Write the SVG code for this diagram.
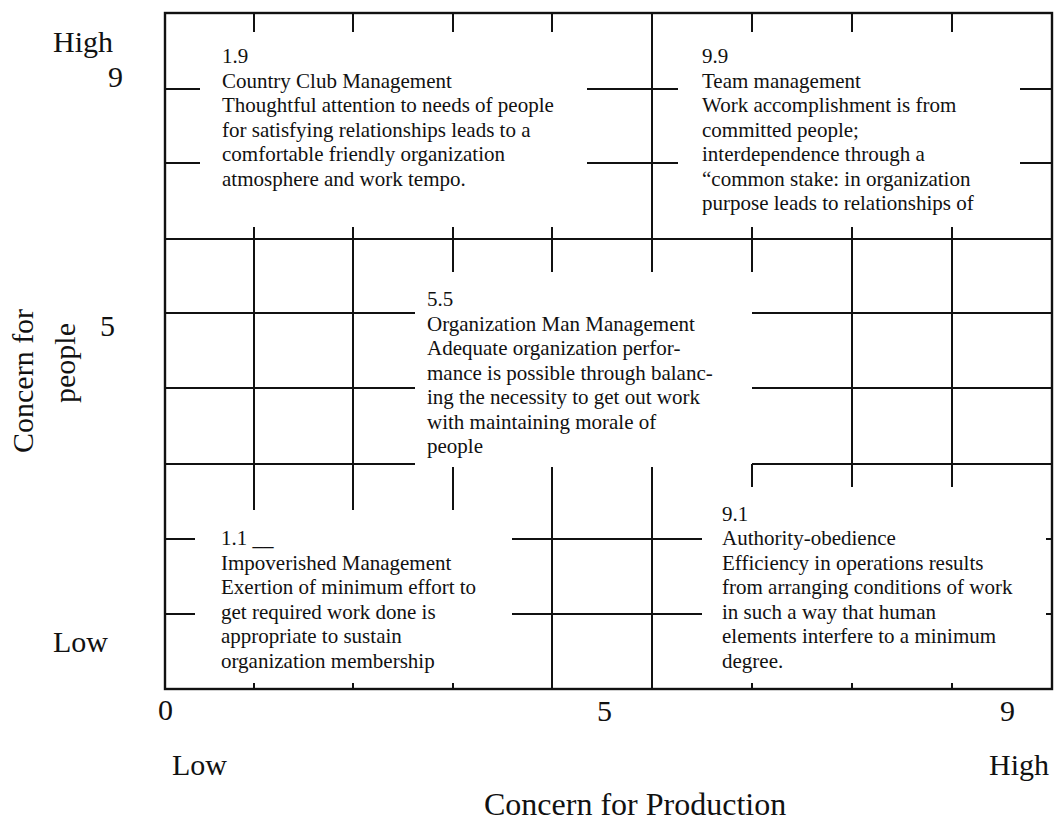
<svg xmlns="http://www.w3.org/2000/svg" width="1055" height="823" viewBox="0 0 1055 823">
<style>
.ln{stroke:#111;stroke-width:2;fill:none;stroke-linecap:butt}
.bd{stroke:#111;stroke-width:2.4;fill:none}
.tx{font-family:"Liberation Serif","Times New Roman",serif;font-size:21px;fill:#111}
.ax{font-family:"Liberation Serif","Times New Roman",serif;font-size:30px;fill:#111}
</style>
<rect width="1055" height="823" fill="#fff"/>
<g id="grid">
<rect class="bd" x="165" y="13" width="887" height="676"/>
<path class="ln" d="M165 239H1052"/>
<!-- top band -->
<path class="ln" d="M254 13V32M353 13V32M453 13V32M552 13V32M752 13V32M852 13V32M952 13V32"/>
<path class="ln" d="M254 227V239M353 227V239M453 227V239M552 227V239M752 227V239M852 227V239M952 227V239"/>
<path class="ln" d="M652 13V239"/>
<path class="ln" d="M165 89H200M165 163H200M587 89H678M587 163H678M1020 89H1052M1020 163H1052"/>
<!-- middle band -->
<path class="ln" d="M165 313H415M165 388H415M165 464H415"/>
<path class="ln" d="M752 313H1052M752 388H1052M752 464H1052"/>
<path class="ln" d="M254 239V510M353 239V510M852 239V487M952 239V487"/>
<path class="ln" d="M453 239V272M552 239V272M652 239V272M752 239V272"/>
<path class="ln" d="M453 467V510M552 467V689M652 467V689M752 464V487"/>
<!-- bottom band -->
<path class="ln" d="M165 539H195M165 614H195M512 539H702M512 614H702M1046 539H1052M1046 614H1052"/>
<path class="ln" d="M254 683V689M353 683V689M453 683V689M752 683V689M852 683V689M952 683V689"/>
</g>
<g id="node-1-9" class="tx">
<text x="222" y="63">1.9</text>
<text x="222" y="88">Country Club Management</text>
<text x="222" y="112">Thoughtful attention to needs of people</text>
<text x="222" y="137">for satisfying relationships leads to a</text>
<text x="222" y="161">comfortable friendly organization</text>
<text x="222" y="186">atmosphere and work tempo.</text>
</g>
<g id="node-9-9" class="tx">
<text x="702" y="63">9.9</text>
<text x="702" y="88">Team management</text>
<text x="702" y="112">Work accomplishment is from</text>
<text x="702" y="137">committed people;</text>
<text x="702" y="161">interdependence through a</text>
<text x="702" y="186">“common stake: in organization</text>
<text x="702" y="210">purpose leads to relationships of</text>
</g>
<g id="node-5-5" class="tx">
<text x="427" y="306">5.5</text>
<text x="427" y="331">Organization Man Management</text>
<text x="427" y="355">Adequate organization perfor-</text>
<text x="427" y="380">mance is possible through balanc-</text>
<text x="427" y="404">ing the necessity to get out work</text>
<text x="427" y="429">with maintaining morale of</text>
<text x="427" y="453">people</text>
</g>
<g id="node-1-1" class="tx">
<text x="221" y="545">1.1 __</text>
<text x="221" y="570">Impoverished Management</text>
<text x="221" y="594">Exertion of minimum effort to</text>
<text x="221" y="619">get required work done is</text>
<text x="221" y="643">appropriate to sustain</text>
<text x="221" y="668">organization membership</text>
</g>
<g id="node-9-1" class="tx">
<text x="722" y="521">9.1</text>
<text x="722" y="545">Authority-obedience</text>
<text x="722" y="570">Efficiency in operations results</text>
<text x="722" y="594">from arranging conditions of work</text>
<text x="722" y="619">in such a way that human</text>
<text x="722" y="643">elements interfere to a minimum</text>
<text x="722" y="668">degree.</text>
</g>
<g id="y-axis" class="ax">
<text x="53" y="52">High</text>
<text x="108" y="87">9</text>
<text x="100" y="336">5</text>
<text x="53" y="652">Low</text>
<text transform="translate(33,453) rotate(-90)">Concern for</text>
<text transform="translate(75,403) rotate(-90)">people</text>
</g>
<g id="x-axis" class="ax">
<text x="158" y="720">0</text>
<text x="597" y="721">5</text>
<text x="1000" y="721">9</text>
<text x="172" y="775">Low</text>
<text x="989" y="775">High</text>
<text x="484" y="815" font-size="32">Concern for Production</text>
</g>
</svg>
